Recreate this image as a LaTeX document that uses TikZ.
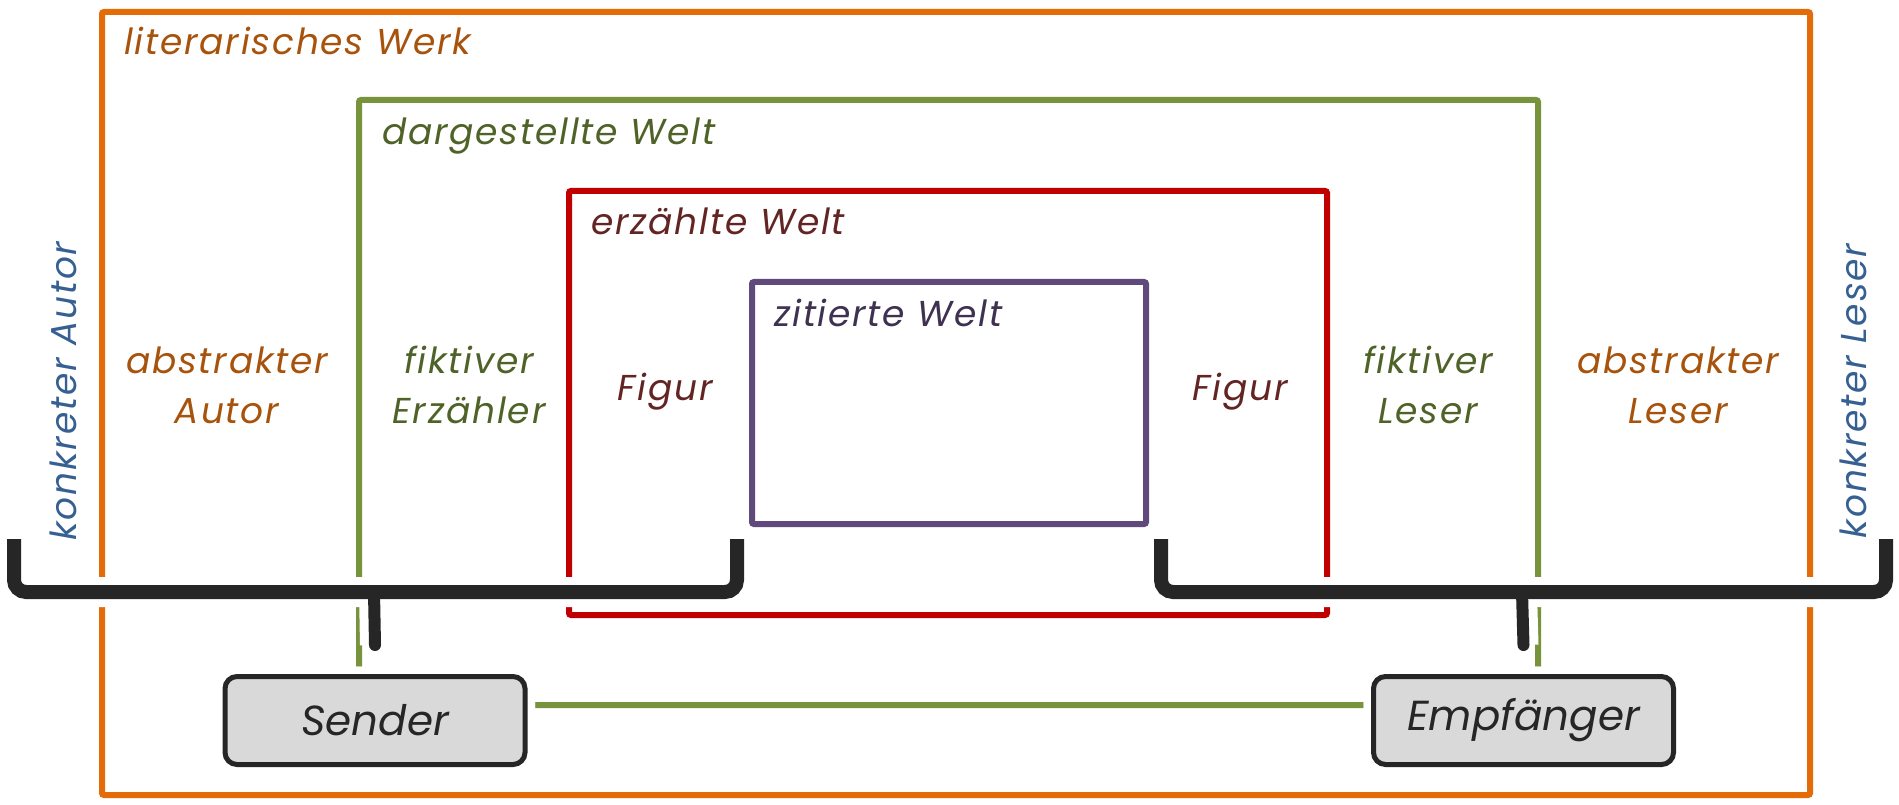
\documentclass[tikz,border=0pt]{standalone}
\usepackage{fontspec}
\setmainfont{Poppins}
\newfontfamily\handfont{Poppins}[LetterSpace=5]
\usetikzlibrary{positioning}
\definecolor{werk}{HTML}{E36C09}
\definecolor{werktext}{HTML}{A8530C}
\definecolor{welt}{HTML}{77933C}
\definecolor{welttext}{HTML}{4F6228}
\definecolor{erzaehlt}{HTML}{C00000}
\definecolor{erzaehlttext}{HTML}{632523}
\definecolor{zitiert}{HTML}{604A7B}
\definecolor{zitierttext}{HTML}{3F3151}
\definecolor{konkret}{HTML}{376092}
\definecolor{klammer}{HTML}{262626}

\begin{document}
\begin{tikzpicture}[x=1pt, y=-1pt,
    frame/.style={line width=6pt, rounded corners=2pt},
    label/.style={font=\handfont\fontsize{36}{50}\selectfont\itshape, inner sep=0pt, align=center},
    title/.style={label, anchor=base west},
    halo/.style={white, line width=30pt, rounded corners=12pt},
    brace/.style={klammer, line width=14pt, rounded corners=12pt},
    tip/.style={klammer, line width=12pt, line cap=round},
    role/.style={draw=klammer, fill=black!15, line width=5pt, rounded corners=12pt,
      minimum width=300pt, minimum height=88pt, text=klammer,
      font=\fontsize{42}{50}\selectfont\itshape,
      preaction={draw=white, line width=20pt}}]
  \path[fill=white] (0,0) rectangle (1899,805);
  \useasboundingbox (0,0) rectangle (1899,805);

  \draw[frame, werk] (102,12) rectangle (1810,795);
  \draw[frame, welt] (359,100) rectangle (1538,705);
  \draw[frame, erzaehlt] (569,191) rectangle (1327,615);
  \draw[frame, zitiert] (752,282) rectangle (1146,524);

  \node[role] (sender) at (375,720.5) {Sender};
  \node[role] (empfaenger) at (1523.5,720.5) {Empfänger};

  \coordinate (sendertip) at ([yshift=29pt]sender.north);
  \coordinate (empfaengertip) at ([yshift=29pt]empfaenger.north);

  % Klammern
  \draw[halo] (14,539) |- (737,592) -- (737,539);
  \draw[halo] (1161,539) |- (1886,592) -- (1886,539);
  \draw[halo] (374,592) -- (sendertip);
  \draw[halo] (1522,592) -- (empfaengertip);
  \draw[brace] (14,539) |- (737,592) -- (737,539);
  \draw[brace] (1161,539) |- (1886,592) -- (1886,539);
  \draw[tip] (374,592) -- (sendertip);
  \draw[tip] (1522,592) -- (empfaengertip);
  \node[role] at (sender) {Sender};
  \node[role] at (empfaenger) {Empfänger};

  \node[title, text=werktext] (werktitle) at (124,55) {literarisches Werk};
  \node[title, text=welttext] (welttitle) at (382,145) {dargestellte Welt};
  \node[title, text=erzaehlttext] (erzaehlttitle) at (591,235) {erzählte Welt};
  \node[title, text=zitierttext] (zitierttitle) at (774,326) {zitierte Welt};

  \node[label, text=werktext] (abstrautor) at (227,385) {abstrakter\\Autor};
  \node[label, text=welttext] (erzaehler) at (469,385) {fiktiver\\Erzähler};
  \node[label, text=erzaehlttext, anchor=base] (figurl) at (665,400) {Figur};
  \node[label, text=erzaehlttext, anchor=base] (figurr) at (1240,400) {Figur};
  \node[label, text=welttext] (fleser) at (1428,385) {fiktiver\\Leser};
  \node[label, text=werktext] (abstrleser) at (1678,385) {abstrakter\\Leser};

  \node[label, text=konkret, rotate=90] (kautor) at (63,391) {konkreter Autor};
  \node[label, text=konkret, rotate=90] (kleser) at (1853,391) {konkreter Leser};
\end{tikzpicture}
\end{document}
